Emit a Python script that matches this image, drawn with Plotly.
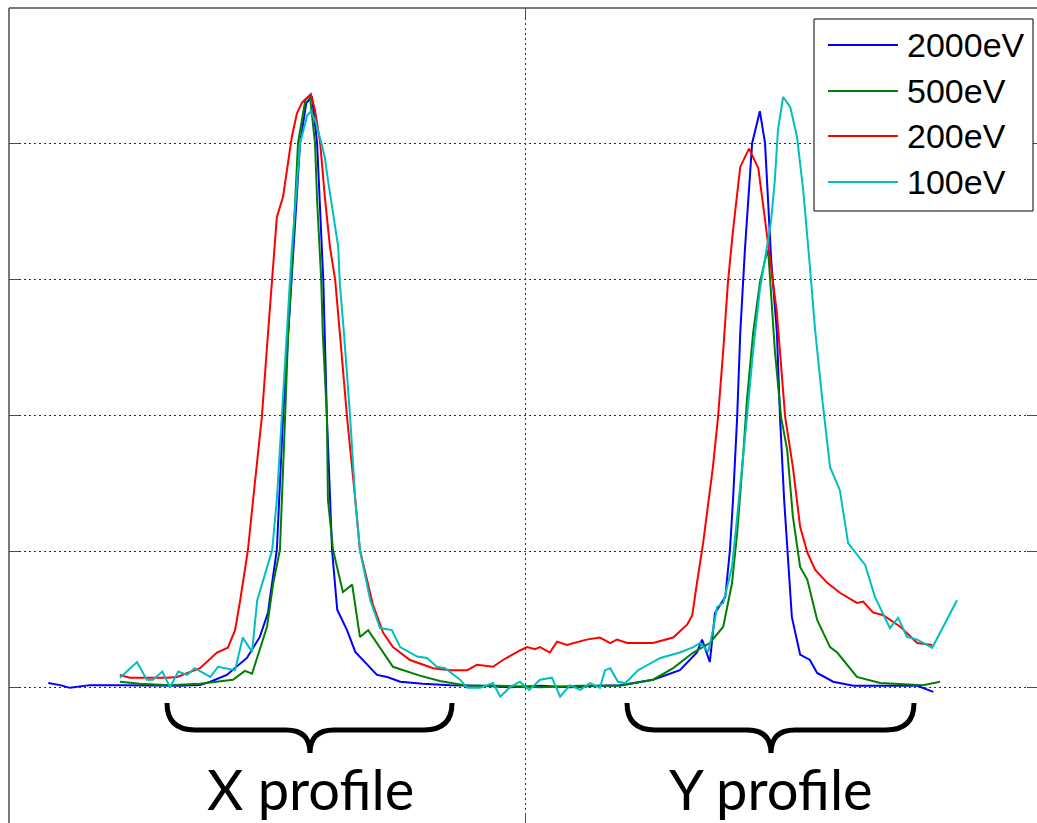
import plotly.graph_objects as go

# Beam profiles (X scan then Y scan), normalised intensity vs. position
x_2000 = [7.6, 9.9, 11.8, 15.7, 21.5, 27.3, 33.1, 37.0, 39.0, 42.2, 46.1, 48.6, 50.2, 50.6, 51.9,
          53.1, 54.1, 55.0, 56.4, 57.6, 58.7, 59.7, 60.9, 61.6, 62.6, 63.6, 65.5, 67.1, 68.6, 71.3,
          73.3, 75.8, 80.2, 85.5, 91.3, 97.1, 102.9, 108.7, 114.5, 118.4, 124.8, 130.0, 133.3, 134.3, 135.8,
          136.8, 138.8, 139.7, 140.3, 141.1, 141.7, 142.6, 144.0, 145.5, 146.5, 147.7, 148.8, 149.4, 150.2, 150.8,
          151.7, 153.3, 155.2, 156.6, 159.7, 163.6, 167.4, 172.7, 176.0, 179.1]
y_2000 = [0.006, 0.003, -0.001, 0.003, 0.003, 0.002, 0.002, 0.003, 0.008, 0.018, 0.043, 0.074, 0.110, 0.133, 0.202,
          0.398, 0.522, 0.644, 0.801, 0.860, 0.870, 0.801, 0.600, 0.398, 0.202, 0.114, 0.084, 0.052, 0.040, 0.018,
          0.015, 0.008, 0.005, 0.003, 0.002, 0.000, 0.002, 0.000, 0.002, 0.003, 0.011, 0.025, 0.051, 0.070, 0.037,
          0.109, 0.133, 0.202, 0.276, 0.398, 0.522, 0.644, 0.801, 0.848, 0.801, 0.628, 0.522, 0.398, 0.276, 0.202,
          0.103, 0.048, 0.040, 0.021, 0.008, 0.002, 0.002, 0.002, 0.002, -0.007]

x_500 = [21.5, 25.4, 31.2, 37.0, 43.4, 45.7, 47.1, 48.6, 50.0, 51.2, 52.5, 53.5, 54.1, 55.0, 56.0,
         57.4, 58.3, 59.3, 59.7, 60.5, 60.8, 61.6, 61.8, 62.8, 64.7, 66.5, 68.0, 69.6, 74.4, 79.6,
         83.5, 88.8, 95.2, 102.9, 110.7, 118.4, 124.8, 128.7, 132.6, 135.8, 138.4, 140.1, 141.1, 142.1, 143.0,
         144.2, 145.5, 146.5, 147.1, 148.4, 149.6, 150.8, 151.9, 153.3, 154.7, 156.6, 159.1, 160.5, 164.3, 168.8,
         172.7, 177.1, 180.4]
y_500 = [0.008, 0.005, 0.003, 0.005, 0.011, 0.024, 0.020, 0.055, 0.089, 0.153, 0.202, 0.398, 0.522, 0.644, 0.801,
         0.864, 0.871, 0.801, 0.717, 0.600, 0.522, 0.398, 0.276, 0.202, 0.140, 0.151, 0.074, 0.084, 0.030, 0.017,
         0.009, 0.002, 0.002, 0.000, 0.002, 0.002, 0.011, 0.028, 0.051, 0.065, 0.089, 0.153, 0.227, 0.324, 0.423,
         0.522, 0.595, 0.629, 0.644, 0.496, 0.398, 0.349, 0.251, 0.177, 0.158, 0.099, 0.059, 0.051, 0.015, 0.006,
         0.005, 0.003, 0.008]

x_200 = [21.5, 23.4, 30.6, 32.6, 37.0, 40.3, 42.4, 43.8, 44.8, 46.3, 47.3, 49.0, 50.2, 51.0, 51.9,
         53.1, 54.1, 54.8, 55.8, 56.8, 58.5, 59.3, 60.3, 61.2, 62.2, 63.2, 64.1, 65.5, 67.1, 68.0,
         70.5, 72.5, 74.4, 77.7, 82.2, 85.5, 88.8, 90.7, 93.8, 95.7, 99.0, 100.4, 101.9, 102.9, 104.8,
         106.2, 108.1, 111.9, 114.5, 116.5, 117.8, 119.8, 124.8, 128.7, 131.4, 132.4, 133.3, 134.5, 136.4, 137.4,
         138.4, 139.3, 140.3, 141.7, 143.4, 145.2, 146.5, 147.9, 148.8, 150.4, 151.9, 153.3, 154.7, 156.2, 158.5,
         161.0, 164.3, 165.5, 167.4, 169.4, 172.7, 176.0, 178.9]
y_200 = [0.018, 0.014, 0.014, 0.015, 0.028, 0.051, 0.058, 0.084, 0.128, 0.202, 0.276, 0.398, 0.522, 0.600, 0.692,
         0.722, 0.772, 0.810, 0.845, 0.861, 0.873, 0.849, 0.801, 0.722, 0.648, 0.600, 0.522, 0.398, 0.276, 0.202,
         0.122, 0.080, 0.059, 0.040, 0.028, 0.025, 0.025, 0.033, 0.030, 0.040, 0.054, 0.059, 0.056, 0.059, 0.051,
         0.067, 0.062, 0.070, 0.073, 0.065, 0.070, 0.065, 0.065, 0.073, 0.092, 0.106, 0.153, 0.212, 0.324, 0.398,
         0.496, 0.595, 0.673, 0.766, 0.793, 0.764, 0.688, 0.600, 0.551, 0.398, 0.324, 0.236, 0.198, 0.173, 0.154,
         0.139, 0.124, 0.126, 0.110, 0.106, 0.089, 0.065, 0.062]

x_100 = [21.5, 24.8, 26.7, 27.9, 29.7, 31.2, 32.8, 34.5, 36.0, 39.0, 40.5, 43.8, 45.3, 47.1, 48.1,
         51.0, 51.9, 52.9, 53.9, 54.8, 56.4, 57.8, 58.5, 59.3, 60.3, 61.2, 61.8, 62.8, 63.8, 64.1,
         64.9, 66.1, 67.1, 68.0, 70.0, 71.9, 74.2, 75.8, 79.1, 81.0, 82.9, 84.5, 87.4, 88.8, 91.3,
         93.8, 95.2, 97.1, 99.0, 100.8, 102.9, 105.2, 106.8, 108.7, 110.7, 112.6, 114.5, 115.5, 116.5, 118.0,
         119.4, 121.9, 126.2, 130.0, 132.6, 133.9, 135.5, 136.4, 137.2, 138.4, 140.1, 141.1, 142.1, 143.0, 144.2,
         145.5, 146.7, 147.7, 148.4, 149.0, 150.0, 151.4, 152.7, 153.9, 155.2, 156.2, 157.6, 159.1, 161.0, 162.6,
         165.9, 167.8, 170.7, 172.3, 174.0, 176.0, 178.9, 183.7]
y_100 = [0.014, 0.037, 0.011, 0.011, 0.023, 0.000, 0.023, 0.018, 0.028, 0.015, 0.030, 0.025, 0.073, 0.052, 0.128,
         0.202, 0.276, 0.398, 0.522, 0.644, 0.801, 0.842, 0.848, 0.835, 0.808, 0.780, 0.747, 0.698, 0.648, 0.595,
         0.522, 0.398, 0.276, 0.202, 0.128, 0.087, 0.084, 0.059, 0.045, 0.043, 0.030, 0.028, 0.011, -0.001, -0.001,
         0.006, -0.014, 0.000, 0.008, -0.004, 0.011, 0.014, -0.014, 0.003, -0.004, 0.006, -0.001, 0.025, 0.028, 0.008,
         0.006, 0.025, 0.043, 0.051, 0.059, 0.065, 0.052, 0.084, 0.118, 0.124, 0.177, 0.251, 0.324, 0.398, 0.496,
         0.585, 0.640, 0.688, 0.747, 0.820, 0.869, 0.854, 0.810, 0.732, 0.619, 0.526, 0.423, 0.324, 0.290, 0.212,
         0.180, 0.133, 0.087, 0.102, 0.074, 0.070, 0.058, 0.128]

series_names = ["2000eV", "500eV", "200eV", "100eV"]
series_colors = ["#0000FF", "#008000", "#FF0000", "#00BFBF"]
profile_labels = ["X profile", "Y profile"]

W, H = 1037, 823
L, T = 9, 8          # plot area left/top offset in pixels
PW, PH = W - L, H - T


def px(xp):
    return (xp - L) / PW


def py(yp):
    return (H - yp) / PH


fig = go.Figure()
for xs, ys, name, col in zip([x_2000, x_500, x_200, x_100], [y_2000, y_500, y_200, y_100],
                             series_names, series_colors):
    fig.add_trace(go.Scatter(x=xs, y=ys, mode="lines", name=name, showlegend=False,
                             line=dict(color=col, width=2)))

axis_col = "#4d4d4d"
grid_dash = "1.5px,3.5px"
fig.update_xaxes(range=[0, 199.2], tickvals=[0, 100], showticklabels=False, ticks="inside",
                 ticklen=10, tickcolor=axis_col, mirror="ticks", showline=False, zeroline=False,
                 showgrid=True, gridcolor="#333333", griddash=grid_dash, gridwidth=1)
fig.update_yaxes(range=[-0.2, 1.0], tickvals=[-0.2, 0, 0.2, 0.4, 0.6, 0.8, 1.0], showticklabels=False,
                 ticks="inside", ticklen=10, tickcolor=axis_col, mirror="ticks", showline=False,
                 zeroline=False, showgrid=True, gridcolor="#333333", griddash=grid_dash, gridwidth=1)

shapes = [
    # left and top frame
    dict(type="line", xref="paper", yref="paper", x0=0, x1=0, y0=0, y1=1,
         line=dict(color=axis_col, width=1.5)),
    dict(type="line", xref="paper", yref="paper", x0=0, x1=1, y0=1, y1=1,
         line=dict(color=axis_col, width=1.5)),
    # legend box
    dict(type="rect", xref="paper", yref="paper", x0=px(814), x1=px(1033), y0=py(211), y1=py(19),
         line=dict(color="black", width=1), fillcolor="white"),
]
annotations = []
legend_rows = [45, 91, 136, 182]
for name, col, ry in zip(series_names, series_colors, legend_rows):
    shapes.append(dict(type="line", xref="paper", yref="paper", x0=px(828), x1=px(898),
                       y0=py(ry), y1=py(ry), line=dict(color=col, width=2)))
    annotations.append(dict(xref="paper", yref="paper", x=px(905), y=py(ry), text=name,
                            showarrow=False, xanchor="left", yanchor="middle",
                            font=dict(family="Liberation Sans, Arial", size=34, color="black")))


def brace(x0, x1, xc, ytop=703, ymid=730, ytip=753, r=28, rc=24):
    pts = [
        ("M", [(x0, ytop)]),
        ("Q", [(x0, ymid), (x0 + r, ymid)]),
        ("L", [(xc - rc, ymid)]),
        ("Q", [(xc, ymid), (xc, ytip)]),
        ("Q", [(xc, ymid), (xc + rc, ymid)]),
        ("L", [(x1 - r, ymid)]),
        ("Q", [(x1, ymid), (x1, ytop)]),
    ]
    out = []
    for cmd, coords in pts:
        out.append(cmd + " ".join(f"{px(a):.5f},{py(b):.5f}" for a, b in coords))
    return " ".join(out)


for (x0, x1, xc), label in zip([(167, 452, 310), (627, 914, 771)], profile_labels):
    shapes.append(dict(type="path", xref="paper", yref="paper", path=brace(x0, x1, xc),
                       line=dict(color="black", width=5)))
    annotations.append(dict(xref="paper", yref="paper", x=px(xc), y=py(788), text=label,
                            showarrow=False, xanchor="center", yanchor="middle",
                            font=dict(family="Lato", size=56, color="black")))

fig.update_layout(width=W, height=H, margin=dict(l=L, r=0, t=T, b=0, pad=0),
                  paper_bgcolor="white", plot_bgcolor="white", showlegend=False,
                  shapes=shapes, annotations=annotations)

fig.write_html("out.html")
